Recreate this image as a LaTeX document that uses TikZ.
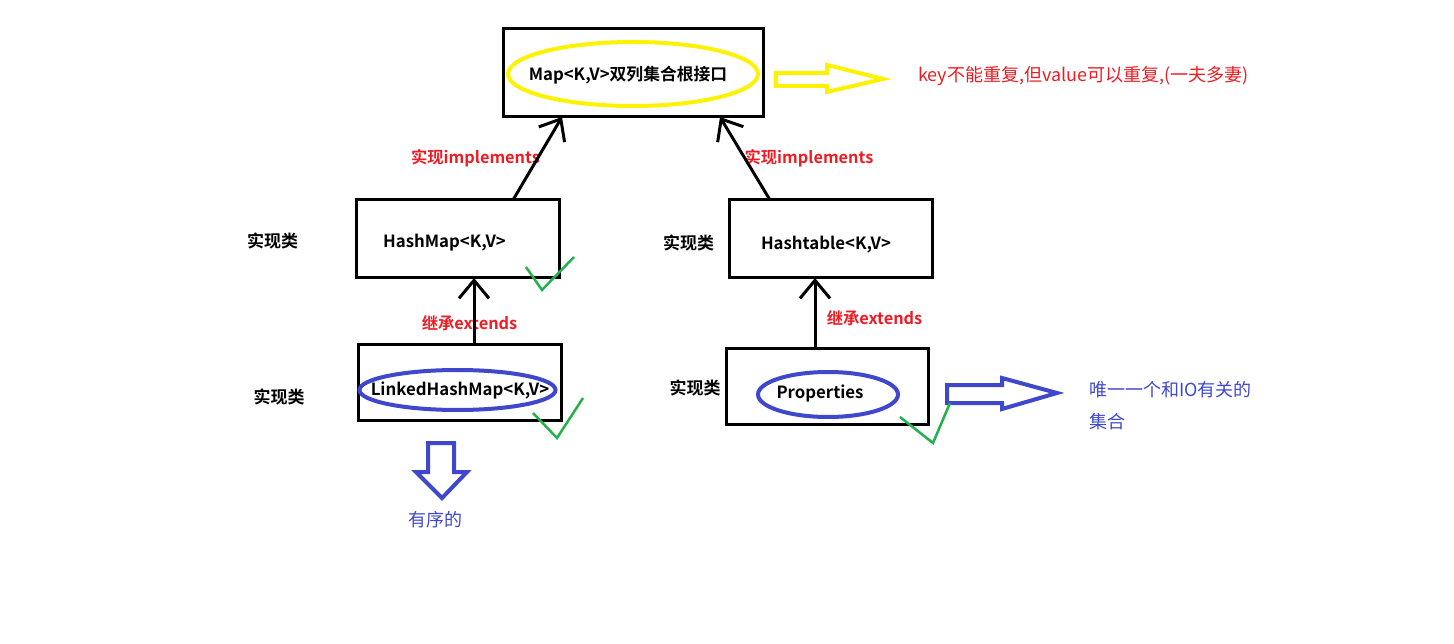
\documentclass[tikz,border=0pt]{standalone}
\usepackage{fontspec}
\setmainfont{Noto Sans CJK SC}[BoldFont={Noto Sans CJK SC Bold}]
\usetikzlibrary{arrows.meta,shapes.geometric}
\definecolor{pred}{HTML}{ED1C24}
\definecolor{pblue}{HTML}{3F48CC}
\definecolor{pgreen}{HTML}{22B14C}
\definecolor{pyellow}{HTML}{FFF200}
\begin{document}
\begin{tikzpicture}[x=1pt,y=-1pt,
  box/.style={draw=black, line width=3pt, rectangle, inner sep=0pt, outer sep=0pt},
  oval/.style={draw=#1, line width=4pt, ellipse, inner sep=0pt},
  cls/.style={font=\bfseries\fontsize{16.8pt}{19pt}\selectfont, inner sep=0pt},
  tag/.style={font=\bfseries\fontsize{17pt}{20pt}\selectfont, inner sep=0pt},
  rel/.style={text=pred, font=\bfseries\fontsize{16.3pt}{19pt}\selectfont, inner sep=0pt},
  note/.style={font=\fontsize{18pt}{21pt}\selectfont, inner sep=0pt, anchor=west},
  conn/.style={draw=black, line width=3pt, -{Straight Barb[length=18pt,width=30pt,line width=3pt]}},
  tick/.style={draw=pgreen, line width=2.5pt},
  hollow/.style={line width=4pt, line join=miter}
]
\useasboundingbox (0,0) rectangle (1454,644);

% boxes
\node[box, minimum width=260pt, minimum height=88pt] (map) at (633,73) {};
\node[box, minimum width=203pt, minimum height=78pt] (hm) at (457.5,239) {};
\node[box, minimum width=203pt, minimum height=78pt] (ht) at (830.5,239) {};
\node[box, minimum width=203pt, minimum height=75pt] (lhm) at (459.5,382.5) {};
\node[box, minimum width=202pt, minimum height=75pt] (pr) at (827,386.5) {};

% ellipses
\node[oval=pyellow, minimum width=250pt, minimum height=64pt] (mapov) at (633,74) {};
\node[oval=pblue, minimum width=196pt, minimum height=40pt] (lhmov) at (457.5,390) {};
\node[oval=pblue, minimum width=140pt, minimum height=45pt] (prov) at (828,394.5) {};

% texts
\node[cls] (maptx) at (628,75) {Map<K,V>双列集合根接口};
\node[cls] (hmtx) at (444.5,243) {HashMap<K,V>};
\node[cls] (httx) at (826,245) {Hashtable<K,V>};
\node[cls] (lhmtx) at (460,390) {LinkedHashMap<K,V>};
\node[cls] (prtx) at (820,393) {Properties};

\node[tag] (t1) at (272.5,241) {实现类};
\node[tag] (t2) at (688.5,243) {实现类};
\node[tag] (t3) at (279,397) {实现类};
\node[tag] (t4) at (695,388) {实现类};

\node[rel] (r1) at (475.5,158) {实现implements};
\node[rel] (r2) at (809,158) {实现implements};
\node[rel] (r3) at (469.5,323) {继承extends};
\node[rel] (r4) at (874.5,318) {继承extends};

\node[note, text=pred] (keynote) at (918,76) {key不能重复,但value可以重复,(一夫多妻)};
\node[note, text=pblue] (ionote1) at (1089,390) {唯一一个和IO有关的};
\node[note, text=pblue] (ionote2) at (1089,422) {集合};
\node[note, text=pblue, anchor=center] (ordered) at (435,520) {有序的};

% connectors
\draw[conn] ([xshift=157pt]hm.north west) -- ([xshift=59pt]map.south west);
\draw[conn] ([xshift=41pt]ht.north west) -- ([xshift=217pt]map.south west);
\draw[conn] ([xshift=116pt]lhm.north west) -- ([xshift=118pt]hm.south west);
\draw[conn] ([xshift=89pt]pr.north west) -- ([xshift=86pt]ht.south west);

% hollow arrows
\draw[hollow, draw=pyellow] (776,73) -- (827,73) -- (827,65) -- (883,79) -- (827,92) -- (827,86) -- (776,86) -- cycle;
\draw[hollow, draw=pblue] (947,385) -- (1002,385) -- (1002,378) -- (1057,393) -- (1002,409) -- (1002,403) -- (947,403) -- cycle;
\draw[hollow, draw=pblue] (428,443) -- (454,443) -- (454,472) -- (467,472) -- (442,498) -- (416,472) -- (428,472) -- cycle;

% ticks
\draw[tick] (526,267) -- (542,290) -- (574,257);
\draw[tick] (533,413) -- (557,438) -- (583,398);
\draw[tick] (900,417) -- (933,443) -- (950,403);
\end{tikzpicture}
\end{document}
